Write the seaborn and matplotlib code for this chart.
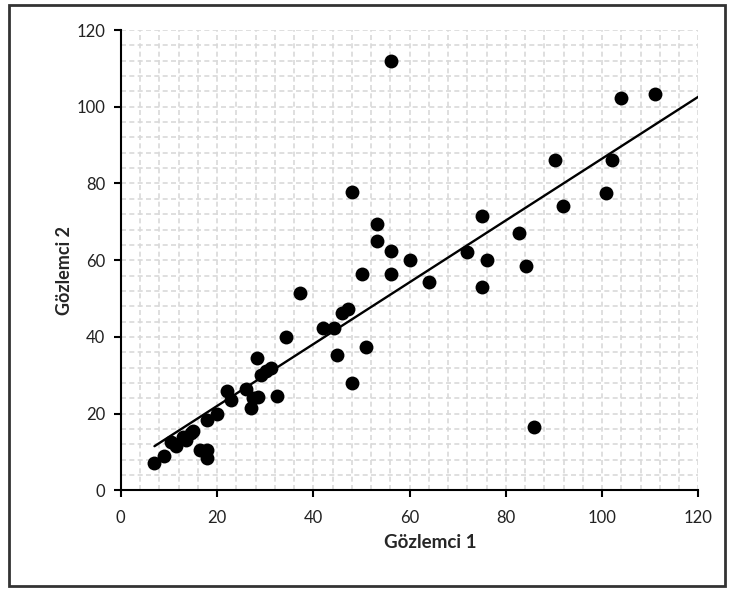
import numpy as np
import pandas as pd
import matplotlib
matplotlib.use("Agg")
import matplotlib.pyplot as plt
from matplotlib.ticker import MultipleLocator
from matplotlib.patches import Rectangle
import seaborn as sns

# Gözlemci 1 / Gözlemci 2 readings
gozlemci_1 = [7, 9, 10.5, 11.5, 13, 13.5, 14.5, 15, 16.5, 18, 18, 18, 20, 22, 23,
              26, 27, 27.4, 28.5, 28.3, 29.2, 30.2, 31.2, 32.5, 34.3, 37.2, 42, 44.2,
              45, 45.9, 47.3, 48, 48, 50.2, 51, 53.3, 53.3, 56.2, 56.2, 56.2, 60, 64,
              72, 75, 75, 76, 82.8, 84.1, 85.8, 90.2, 91.9, 100.8, 102, 103.9, 111.1]
gozlemci_2 = [7, 9, 12.5, 11.5, 14, 13, 15, 15.5, 10.5, 10.5, 8.3, 18.3, 20, 26, 23.5,
              26.3, 21.4, 24, 24.4, 34.4, 30, 31, 31.8, 24.5, 40, 51.5, 42.3, 42.3,
              35.3, 46.2, 47.2, 28.1, 77.8, 56.4, 37.3, 69.5, 65.1, 62.3, 56.4, 112, 60,
              54.2, 62.2, 71.5, 53, 60, 67.1, 58.4, 16.4, 86.1, 74.2, 77.4, 86.1, 102.2,
              103.3]

df = pd.DataFrame({"g1": gozlemci_1, "g2": gozlemci_2})

sns.set_style("white")
plt.rcParams['font.family'] = ['Lato', 'DejaVu Sans']

fig = plt.figure(figsize=(7.32, 5.90), dpi=100)
ax = fig.add_axes([0.165, 0.169, 0.789, 0.780])

# trendline (least squares) from first point to axis edge
slope, intercept = np.polyfit(df["g1"], df["g2"], 1)
x_line = np.array([df["g1"].min(), 120])
sns.lineplot(x=x_line, y=slope * x_line + intercept, ax=ax, color='black', linewidth=1.7, zorder=3)

sns.scatterplot(data=df, x="g1", y="g2", ax=ax, color='black', s=100, edgecolor='black',
                linewidth=0, zorder=4)

ax.set_xlim(0, 120)
ax.set_ylim(0, 120)
ax.xaxis.set_major_locator(MultipleLocator(20))
ax.yaxis.set_major_locator(MultipleLocator(20))
ax.xaxis.set_minor_locator(MultipleLocator(4))
ax.yaxis.set_minor_locator(MultipleLocator(4))
ax.grid(which='both', color='#d9d9d9', linestyle=(0, (3, 2)), linewidth=1.2, zorder=0)
ax.set_axisbelow(True)

for side in ['top', 'right']:
    ax.spines[side].set_visible(False)
for side in ['left', 'bottom']:
    ax.spines[side].set_color('black')
    ax.spines[side].set_linewidth(1.5)

ax.tick_params(which='major', direction='out', length=5, width=1.5, color='black',
               labelsize=12, labelcolor='#222222', bottom=True, left=True)
ax.tick_params(axis='x', which='major', pad=9)
ax.tick_params(axis='y', which='major', pad=6)
ax.tick_params(which='minor', length=0)

ax.set_xlabel("Gözlemci 1", fontsize=13.5, fontweight='bold')
ax.set_ylabel("Gözlemci 2", fontsize=13, fontweight='bold')
ax.xaxis.set_label_coords(0.535, -0.096)
ax.yaxis.set_label_coords(-0.082, 0.478)

# outer chart frame
fig.patches.append(Rectangle((0.012, 0.007), 0.979, 0.985, transform=fig.transFigure,
                             fill=False, edgecolor='#333333', linewidth=2))

fig.savefig("out.png", dpi=100)
